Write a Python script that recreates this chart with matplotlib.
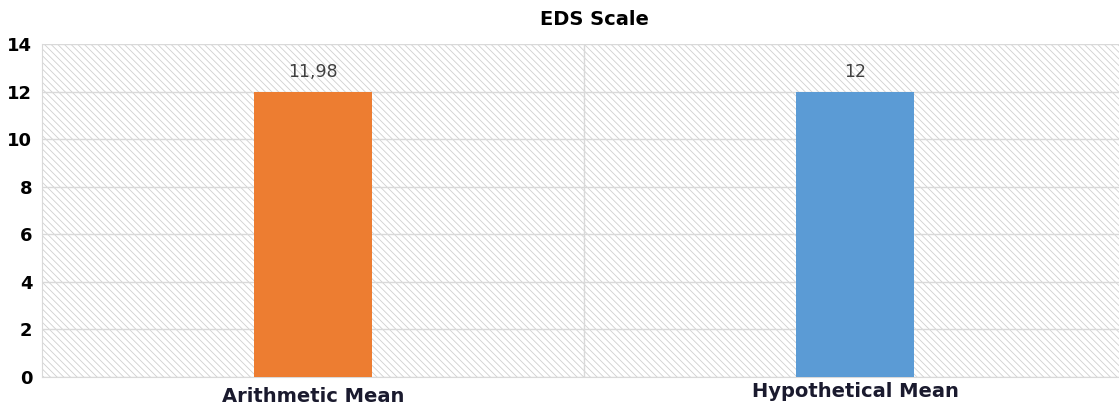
import matplotlib.pyplot as plt
from matplotlib.patches import Rectangle

# data
categories = ['Arithmetic Mean', 'Hypothetical Mean']
values = [11.98, 12]
value_labels = ['11,98', '12']
colors = ['#ED7D31', '#5B9BD5']
yticks = [0, 2, 4, 6, 8, 10, 12, 14]

plt.rcParams['font.family'] = ['DejaVu Sans']
plt.rcParams['hatch.linewidth'] = 0.6

fig = plt.figure(figsize=(11.19, 4.05), dpi=100)
ax = fig.add_axes([0.0375, 0.069, 0.9625, 0.822])

# hatched background
bg = Rectangle((0, 0), 1, 1, transform=ax.transAxes, facecolor='white',
               edgecolor='#cfcfcf', hatch='\\' * 5, lw=0, zorder=0)
ax.add_patch(bg)

x = list(range(len(categories)))
ax.bar(x, values, width=0.218, color=colors, zorder=3)

for xi, v, lab in zip(x, values, value_labels):
    ax.annotate(lab, (xi, v), xytext=(0, 8), textcoords='offset points',
                ha='center', va='bottom', fontsize=12.5, color='#404040', zorder=4)

ax.set_xlim(-0.5, 1.487)
ax.set_ylim(0, 14)
ax.set_yticks(yticks)
ax.set_yticklabels([str(t) for t in yticks], fontsize=13, fontweight='bold', color='black')
ax.tick_params(axis='y', length=0, pad=7)

# category labels
ax.set_xticks([])
ax.set_xticks([0.5], minor=True)
ax.tick_params(axis='x', which='both', length=0)
ax.grid(axis='x', which='minor', color='#d9d9d9', lw=1, zorder=1)
ax.grid(axis='y', which='major', color='#d9d9d9', lw=1, zorder=1)
label_y = [-0.057, -0.042]
for xi, cat, ly in zip(x, categories, label_y):
    ax.text(xi, ly, cat, transform=ax.get_xaxis_transform(), ha='center', va='center',
            fontsize=14, fontweight='bold', color='#1a1a2e')

for s in ['top', 'right']:
    ax.spines[s].set_visible(False)
for s in ['left', 'bottom']:
    ax.spines[s].set_color('#d9d9d9')

fig.suptitle('EDS Scale', x=0.531, y=0.975, fontsize=14, fontweight='bold')

fig.savefig('out.png', dpi=100)
